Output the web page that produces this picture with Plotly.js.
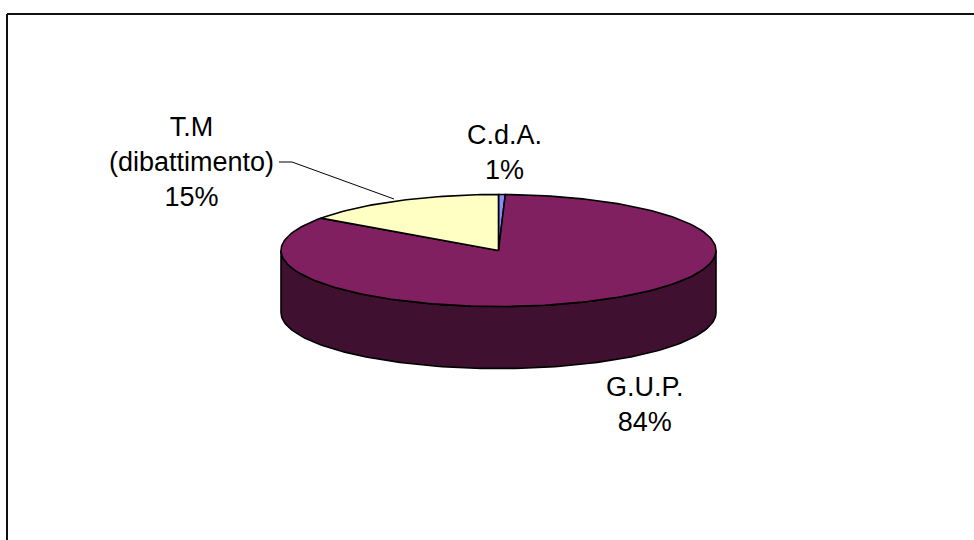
<!DOCTYPE html>
<html>
<head>
<meta charset="utf-8">
<script src="https://cdn.plot.ly/plotly-3.0.1.min.js"></script>
<style>html,body{margin:0;padding:0;background:#fff;}#chart{width:974px;height:540px;}</style>
</head>
<body>
<div id="chart"></div>
<script>
// ---- data ----
const categories = ["C.d.A.", "G.U.P.", "T.M<br>(dibattimento)"];
const values = [0.5, 84.3, 15.2];
const colors = ["#8a8aff", "#802060", "#ffffc4"];
const sideColors = ["#45457f", "#3f1030", "#7f7f62"];

// ---- geometry of the 3-D pie (pixel space) ----
const CX = 498.5, CY = 250.5, RX = 217.5, RY = 56, DEPTH = 62;
const total = values.reduce((a, b) => a + b, 0);

function pt(deg, dy) {
  const r = deg * Math.PI / 180;
  return [CX + RX * Math.sin(r), CY - RY * Math.cos(r) + (dy || 0)];
}
function arc(a, b, dy) {
  const n = Math.max(2, Math.ceil(Math.abs(b - a) / 1.5));
  const out = [];
  for (let i = 0; i <= n; i++) out.push(pt(a + (b - a) * i / n, dy));
  return out;
}

const traces = [];
let start = 0;
const slices = values.map((v, i) => {
  const a = start, b = start + v / total * 360;
  start = b;
  return {i, a, b};
});

// side walls (front half only, 90..270 deg)
slices.forEach(s => {
  const a = Math.max(s.a, 90), b = Math.min(s.b, 270);
  if (b <= a) return;
  const top = arc(a, b, 0);
  const bot = arc(b, a, DEPTH);
  const poly = top.concat(bot);
  poly.push(top[0]);
  traces.push({
    type: "scatter", mode: "lines", fill: "toself",
    x: poly.map(p => p[0]), y: poly.map(p => p[1]),
    fillcolor: sideColors[s.i], line: {color: "#000", width: 1.6},
    hoverinfo: "skip", showlegend: false
  });
});

// top faces
slices.forEach(s => {
  const poly = [[CX, CY]].concat(arc(s.a, s.b, 0));
  poly.push([CX, CY]);
  traces.push({
    type: "scatter", mode: "lines", fill: "toself",
    x: poly.map(p => p[0]), y: poly.map(p => p[1]),
    fillcolor: colors[s.i], line: {color: "#000", width: 1.6},
    hoverinfo: "skip", showlegend: false
  });
});

const pct = values.map(v => Math.round(v / total * 100) + "%");
const labelPos = [[504, 152], [645, 404], [191, 162]];
const font = {family: "Liberation Sans, Arial, sans-serif", size: 27, color: "#000"};
const annotations = categories.map((c, i) => ({
  x: labelPos[i][0], y: labelPos[i][1], xref: "x", yref: "y",
  text: c + "<br>" + pct[i], showarrow: false,
  xanchor: "center", yanchor: "middle", align: "center", font: font
}));

const layout = {
  width: 974, height: 540,
  margin: {l: 0, r: 0, t: 0, b: 0},
  paper_bgcolor: "#fff", plot_bgcolor: "#fff",
  xaxis: {range: [0, 974], visible: false, fixedrange: true},
  yaxis: {range: [540, 0], visible: false, fixedrange: true},
  showlegend: false,
  annotations: annotations,
  shapes: [
    {type: "line", xref: "x", yref: "y", x0: 7, y0: 14, x1: 974, y1: 14, line: {color: "#111", width: 2}},
    {type: "line", xref: "x", yref: "y", x0: 7, y0: 14, x1: 7, y1: 540, line: {color: "#111", width: 2}},
    {type: "path", xref: "x", yref: "y", path: "M 279 162 L 292 162 L 394 199", line: {color: "#000", width: 1}}
  ]
};

Plotly.newPlot("chart", traces, layout, {displayModeBar: false, staticPlot: true});
</script>
</body>
</html>
